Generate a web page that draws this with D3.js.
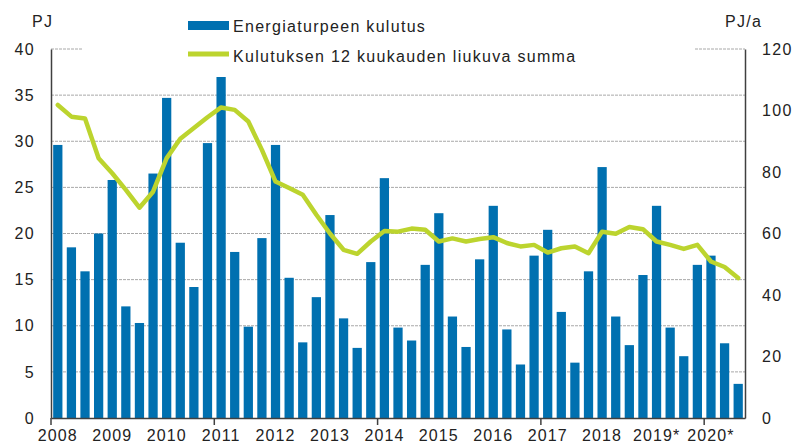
<!DOCTYPE html>
<html>
<head>
<meta charset="utf-8">
<script src="https://cdn.jsdelivr.net/npm/d3@7"></script>
<style>
  body { margin: 0; background: #fff; }
  text { font-family: "Liberation Sans", Arial, sans-serif; fill: #222; }
</style>
</head>
<body>
<div id="chart"></div>
<script>
// Years shown on the x axis (one label per first quarter)
var years = ["2008", "2009", "2010", "2011", "2012", "2013", "2014",
             "2015", "2016", "2017", "2018", "2019*", "2020*"];
var quarters = ["Q1", "Q2", "Q3", "Q4"];

// Quarterly peat consumption, PJ (left axis)
var consumption = [
  29.6, 18.5, 15.9, 20.0,
  25.8, 12.1, 10.3, 26.5,
  34.7, 19.0, 14.2, 29.8,
  37.6, 18.0, 9.9, 19.5,
  29.6, 15.2, 8.2, 13.1,
  22.0, 10.8, 7.6, 16.9,
  26.0, 9.8, 8.4, 16.6,
  22.2, 11.0, 7.7, 17.2,
  23.0, 9.6, 5.8, 17.6,
  20.4, 11.5, 6.0, 15.9,
  27.2, 11.0, 7.9, 15.5,
  23.0, 9.8, 6.7, 16.6,
  17.6, 8.1, 3.7
];

// 12 month moving sum, PJ/a (right axis)
var movingSum = [
  101.8, 98.0, 97.4, 84.5,
  79.6, 74.2, 68.4, 73.6,
  84.5, 90.8, 94.3, 97.8,
  101.0, 100.2, 96.4, 87.2,
  76.9, 74.8, 72.6, 66.1,
  60.0, 54.7, 53.4, 57.4,
  60.8, 60.6, 61.6, 61.2,
  57.4, 58.4, 57.4, 58.2,
  58.8, 56.9, 55.8, 56.3,
  53.8, 55.2, 55.8, 53.6,
  60.6, 59.9, 62.1, 61.4,
  57.4, 56.3, 55.0, 56.3,
  50.9, 49.1, 45.5
];

var leftTicks = [0, 5, 10, 15, 20, 25, 30, 35, 40];
var rightTicks = [0, 20, 40, 60, 80, 100, 120];

var seriesNames = ["Energiaturpeen kulutus", "Kulutuksen 12 kuukauden liukuva summa"];

// Category keys, one per bar
var categories = [];
years.forEach(function(yr) {
  quarters.forEach(function(q) { categories.push(yr + q); });
});
categories = categories.slice(0, consumption.length);

var W = 796, H = 448;
var margin = {top: 49, right: 51, bottom: 30, left: 51},
    width = W - margin.left - margin.right,
    height = H - margin.top - margin.bottom;

var blue = "#0070b0", green = "#bcd42e", axisCol = "#404040";

var svg = d3.select("#chart").append("svg")
    .attr("width", W)
    .attr("height", H);

var g = svg.append("g")
    .attr("transform", "translate(" + margin.left + "," + margin.top + ")");

var x = d3.scaleBand()
    .domain(categories)
    .range([0, width])
    .paddingInner(0.32)
    .paddingOuter(0.16);

var yL = d3.scaleLinear().domain([0, 40]).range([height, 0]);
var yR = d3.scaleLinear().domain([0, 120]).range([height, 0]);

var step = x.step();
function cx(i) { return x(categories[i]) + x.bandwidth() / 2; }

// Gridlines
g.selectAll(".grid")
    .data(leftTicks.slice(1))
    .enter().append("line")
    .attr("x1", 0).attr("x2", width)
    .attr("y1", function(d) { return yL(d); })
    .attr("y2", function(d) { return yL(d); })
    .attr("stroke", "#a8a8a8")
    .attr("stroke-width", 1)
    .attr("stroke-dasharray", "3,1");

// Bars
g.selectAll(".bar")
    .data(consumption)
    .enter().append("rect")
    .attr("class", "bar")
    .attr("x", function(d, i) { return x(categories[i]); })
    .attr("width", x.bandwidth())
    .attr("y", function(d) { return yL(d); })
    .attr("height", function(d) { return height - yL(d); })
    .attr("fill", blue);

// Moving sum line
var line = d3.line()
    .x(function(d, i) { return cx(i); })
    .y(function(d) { return yR(d); });

g.append("path")
    .datum(movingSum)
    .attr("d", line)
    .attr("fill", "none")
    .attr("stroke", green)
    .attr("stroke-width", 4.5)
    .attr("stroke-linejoin", "round")
    .attr("stroke-linecap", "round");

// Legend background hides the top gridline
g.append("rect")
    .attr("x", 31).attr("y", -44)
    .attr("width", 613).attr("height", 72)
    .attr("fill", "#fff");

// Left axis
var leftAxis = g.append("g")
    .call(d3.axisLeft(yL).tickValues(leftTicks).tickSize(0).tickPadding(16));
leftAxis.select(".domain").attr("stroke", axisCol).attr("stroke-width", 1.5);
leftAxis.selectAll("text")
    .style("font-size", "16px")
    .style("letter-spacing", "1.3px")
    .attr("fill", "#222");

// Right axis
var rightAxis = g.append("g")
    .attr("transform", "translate(" + width + ",0)")
    .call(d3.axisRight(yR).tickValues(rightTicks).tickSize(0).tickPadding(17));
rightAxis.select(".domain").attr("stroke", axisCol).attr("stroke-width", 1.5);
rightAxis.selectAll("text")
    .style("font-size", "16px")
    .style("letter-spacing", "1.3px")
    .attr("fill", "#222");

// Bottom axis: labels under first quarter of each year
var firstQ = categories.filter(function(c, i) { return i % 4 === 0; });
var bottomAxis = g.append("g")
    .attr("transform", "translate(0," + height + ")")
    .call(d3.axisBottom(x)
      .tickValues(firstQ)
      .tickSize(0)
      .tickSizeOuter(0)
      .tickPadding(12)
      .tickFormat(function(d) { return d.slice(0, -2); }));
bottomAxis.select(".domain").attr("stroke", axisCol).attr("stroke-width", 1.5);
bottomAxis.selectAll("text")
    .style("font-size", "16px")
    .style("letter-spacing", "1.1px")
    .attr("fill", "#222");

// Tick marks every third year
var tickIdx = d3.range(0, categories.length, 12);
bottomAxis.selectAll(".yrtick")
    .data(tickIdx)
    .enter().append("line")
    .attr("x1", function(i) { return x(categories[i]) - step * 0.16; })
    .attr("x2", function(i) { return x(categories[i]) - step * 0.16; })
    .attr("y1", 0).attr("y2", 7)
    .attr("stroke", axisCol)
    .attr("stroke-width", 1.5);

// Unit labels
svg.append("text")
    .attr("x", 32).attr("y", 27)
    .style("font-size", "16px")
    .style("letter-spacing", "1.3px")
    .text("PJ");

svg.append("text")
    .attr("x", 725).attr("y", 27)
    .style("font-size", "16px")
    .style("letter-spacing", "1.3px")
    .text("PJ/a");

// Legend
var legend = svg.append("g");
legend.append("rect")
    .attr("x", 188).attr("y", 21)
    .attr("width", 41).attr("height", 9)
    .attr("fill", blue);
legend.append("line")
    .attr("x1", 188).attr("x2", 229)
    .attr("y1", 54).attr("y2", 54)
    .attr("stroke", green)
    .attr("stroke-width", 5);
legend.selectAll(".ltext")
    .data(seriesNames)
    .enter().append("text")
    .attr("x", 233)
    .attr("y", function(d, i) { return 32 + i * 30; })
    .style("font-size", "16px")
    .style("letter-spacing", "1.3px")
    .text(function(d) { return d; });
</script>
</body>
</html>
